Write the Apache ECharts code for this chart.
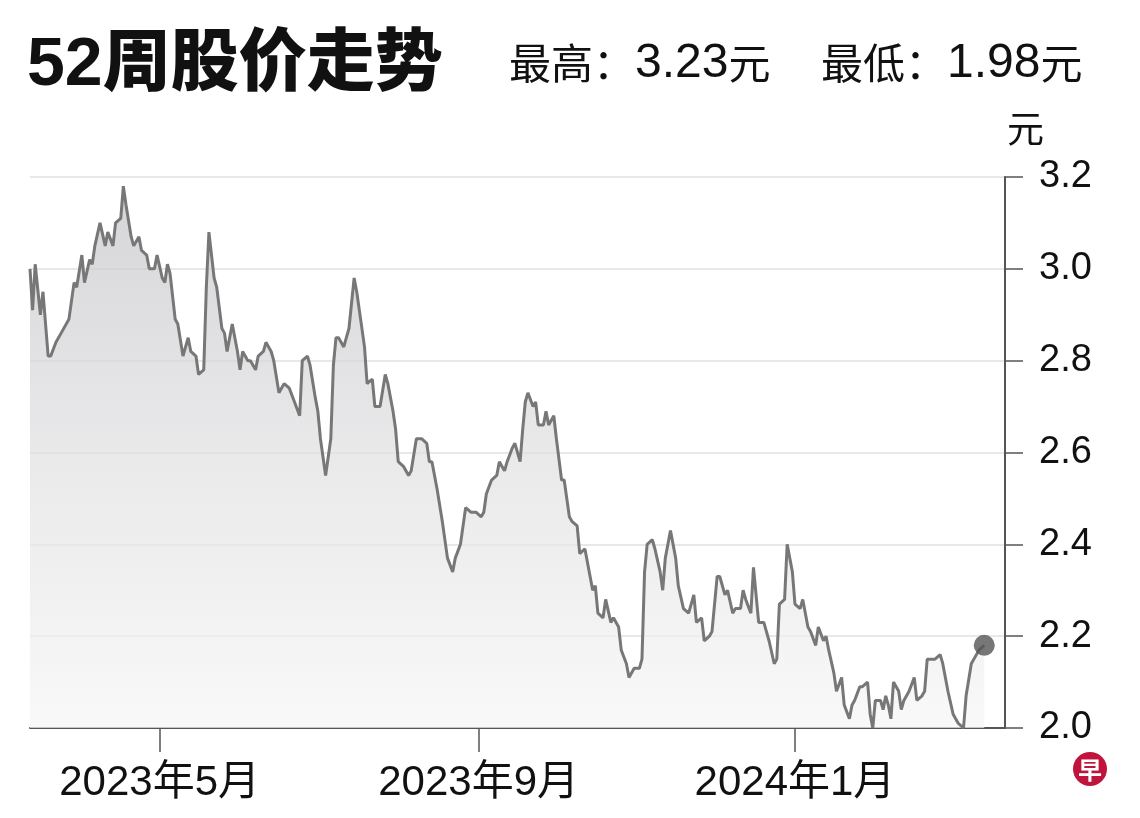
<!DOCTYPE html>
<html><head><meta charset="utf-8">
<script src="https://cdn.jsdelivr.net/npm/echarts@6/dist/echarts.min.js"></script>
<style>html,body{margin:0;padding:0;background:#fff}#c{width:1140px;height:818px}</style>
</head><body><div id="c"></div>
<script>
const titleText = '52周股价走势';
const highLabel = '最高：', highValue = '3.23', lowLabel = '最低：', lowValue = '1.98', currencyUnit = '元';
const unitName = '元';
const logoText = '早';

const dates = [
'2023-03-12','2023-03-13','2023-03-14','2023-03-16','2023-03-17','2023-03-19','2023-03-20','2023-03-22','2023-03-24','2023-03-27','2023-03-29','2023-03-30',
'2023-04-01','2023-04-02','2023-04-04','2023-04-05','2023-04-06','2023-04-08','2023-04-10','2023-04-11','2023-04-13','2023-04-14','2023-04-16','2023-04-17','2023-04-18','2023-04-20','2023-04-21','2023-04-23','2023-04-24','2023-04-26','2023-04-27','2023-04-29','2023-04-30',
'2023-05-02','2023-05-03','2023-05-04','2023-05-05','2023-05-07','2023-05-08','2023-05-10','2023-05-12','2023-05-13','2023-05-15','2023-05-16','2023-05-18','2023-05-19','2023-05-20','2023-05-21','2023-05-22','2023-05-23','2023-05-25','2023-05-26','2023-05-27','2023-05-29','2023-05-31',
'2023-06-01','2023-06-02','2023-06-04','2023-06-05','2023-06-07','2023-06-08','2023-06-10','2023-06-11','2023-06-13','2023-06-14','2023-06-16','2023-06-18','2023-06-20','2023-06-22','2023-06-24','2023-06-25','2023-06-27','2023-06-28','2023-06-30',
'2023-07-01','2023-07-02','2023-07-04','2023-07-06','2023-07-07','2023-07-08','2023-07-09','2023-07-11','2023-07-12','2023-07-13','2023-07-15','2023-07-16','2023-07-17','2023-07-19','2023-07-20','2023-07-22','2023-07-23','2023-07-25','2023-07-27','2023-07-28','2023-07-30','2023-07-31',
'2023-08-01','2023-08-03','2023-08-05','2023-08-06','2023-08-08','2023-08-10','2023-08-12','2023-08-13','2023-08-14','2023-08-16','2023-08-18','2023-08-20','2023-08-22','2023-08-23','2023-08-25','2023-08-27','2023-08-29','2023-08-31',
'2023-09-02','2023-09-03','2023-09-04','2023-09-06','2023-09-08','2023-09-09','2023-09-11','2023-09-12','2023-09-14','2023-09-15','2023-09-17','2023-09-18','2023-09-19','2023-09-20','2023-09-22','2023-09-23','2023-09-24','2023-09-26','2023-09-27','2023-09-28','2023-09-30',
'2023-10-01','2023-10-03','2023-10-04','2023-10-06','2023-10-07','2023-10-09','2023-10-10','2023-10-12','2023-10-14','2023-10-15','2023-10-16','2023-10-17','2023-10-19','2023-10-20','2023-10-22','2023-10-23','2023-10-25','2023-10-26','2023-10-28','2023-10-29','2023-10-31',
'2023-11-02','2023-11-03','2023-11-04','2023-11-05','2023-11-07','2023-11-08','2023-11-10','2023-11-11','2023-11-12','2023-11-14','2023-11-16','2023-11-17','2023-11-19','2023-11-21','2023-11-23','2023-11-24','2023-11-26','2023-11-27','2023-11-29','2023-11-30',
'2023-12-02','2023-12-03','2023-12-05','2023-12-06','2023-12-08','2023-12-09','2023-12-11','2023-12-12','2023-12-13','2023-12-15','2023-12-16','2023-12-18','2023-12-20','2023-12-21','2023-12-22','2023-12-24','2023-12-25','2023-12-26','2023-12-28','2023-12-29','2023-12-31',
'2024-01-01','2024-01-03','2024-01-04','2024-01-06','2024-01-07','2024-01-09','2024-01-10','2024-01-12','2024-01-13','2024-01-14','2024-01-16','2024-01-17','2024-01-19','2024-01-20','2024-01-22','2024-01-23','2024-01-24','2024-01-26','2024-01-27','2024-01-29','2024-01-30','2024-01-31',
'2024-02-01','2024-02-03','2024-02-04','2024-02-05','2024-02-06','2024-02-07','2024-02-08','2024-02-10','2024-02-11','2024-02-12','2024-02-14','2024-02-16','2024-02-17','2024-02-19','2024-02-20','2024-02-21','2024-02-24','2024-02-26','2024-02-27','2024-02-29',
'2024-03-02','2024-03-04','2024-03-06','2024-03-07','2024-03-09','2024-03-10','2024-03-12','2024-03-14'
];

const prices = [
3.00,2.91,3.01,2.90,2.95,2.81,2.81,2.84,2.86,2.89,2.97,2.96,
3.03,2.97,3.02,3.01,3.05,3.10,3.05,3.08,3.05,3.10,3.11,3.18,3.14,3.07,3.05,3.07,3.04,3.03,3.00,3.00,3.03,
2.98,2.97,3.01,2.99,2.89,2.88,2.81,2.85,2.82,2.81,2.77,2.78,2.96,3.08,3.03,2.98,2.96,2.87,2.86,2.82,2.88,2.82,
2.78,2.82,2.80,2.80,2.78,2.81,2.82,2.84,2.82,2.80,2.73,2.75,2.74,2.71,2.68,2.80,2.81,2.79,2.72,
2.69,2.63,2.55,2.63,2.79,2.85,2.85,2.83,2.85,2.87,2.98,2.95,2.91,2.83,2.75,2.76,2.70,2.70,2.77,2.75,2.69,2.65,
2.58,2.57,2.55,2.56,2.63,2.63,2.62,2.58,2.58,2.52,2.45,2.37,2.34,2.37,2.40,2.48,2.47,2.47,
2.46,2.47,2.51,2.54,2.55,2.58,2.56,2.58,2.61,2.62,2.58,2.65,2.71,2.73,2.70,2.71,2.66,2.66,2.69,2.66,2.68,
2.63,2.54,2.54,2.46,2.45,2.44,2.38,2.39,2.33,2.30,2.31,2.25,2.24,2.28,2.23,2.24,2.22,2.17,2.14,2.11,2.13,
2.13,2.15,2.34,2.40,2.41,2.39,2.34,2.30,2.37,2.43,2.37,2.31,2.26,2.25,2.29,2.23,2.24,2.19,2.20,2.21,
2.33,2.33,2.29,2.30,2.25,2.26,2.26,2.30,2.28,2.25,2.35,2.23,2.23,2.21,2.19,2.14,2.15,2.27,2.28,2.40,2.34,
2.27,2.26,2.28,2.22,2.21,2.18,2.22,2.19,2.20,2.17,2.12,2.08,2.11,2.05,2.02,2.05,2.06,2.09,2.09,2.10,2.03,2.00,
2.06,2.06,2.04,2.07,2.05,2.02,2.10,2.08,2.04,2.06,2.08,2.11,2.06,2.07,2.08,2.15,2.15,2.16,2.14,2.08,
2.03,2.01,2.00,2.07,2.14,2.15,2.17,2.18
];

const xRange = ['2023-03-12', '2024-03-22'];
const xTickDates = ['2023-05-01', '2023-09-01', '2024-01-01'];
const xTickLabels = ['2023年5月', '2023年9月', '2024年1月'];
const yMin = 2.0, yMax = 3.2, yStep = 0.2;

const FONT = "'Liberation Sans', Arial, 'Noto Sans CJK SC', sans-serif";
const ts = s => { const p = s.split('-'); return new Date(+p[0], +p[1] - 1, +p[2]).getTime(); };
const xTickTs = xTickDates.map(ts);
const seriesData = dates.map((d, i) => [ts(d), prices[i]]);
const last = seriesData.length - 1;

const statRich = {
  c: {fontSize: 42, fontWeight: 'normal', color: '#111', fontFamily: FONT, verticalAlign: 'bottom', lineHeight: 50},
  n: {fontSize: 48, fontWeight: 'normal', color: '#111', fontFamily: FONT, verticalAlign: 'bottom', lineHeight: 50}
};

const chart = echarts.init(document.getElementById('c'), null, {renderer: 'canvas'});
chart.setOption({
  animation: false,
  backgroundColor: '#fff',
  title: [
    {text: titleText, left: 27, top: 32, padding: 0,
     textStyle: {fontSize: 68, fontWeight: 900, color: '#111', fontFamily: FONT}},
    {text: `{c|${highLabel}}{n|${highValue}}{c|${currencyUnit}}`, left: 509, top: 38, padding: 0,
     textStyle: {fontWeight: 'normal', rich: statRich}},
    {text: `{c|${lowLabel}}{n|${lowValue}}{c|${currencyUnit}}`, left: 821, top: 38, padding: 0,
     textStyle: {fontWeight: 'normal', rich: statRich}}
  ],
  grid: {left: 30, right: 135, top: 177, bottom: 90},
  xAxis: {
    type: 'value',
    min: ts(xRange[0]), max: ts(xRange[1]),
    axisLine: {show: true, onZero: false, lineStyle: {color: '#555', width: 2}},
    axisTick: {show: true, customValues: xTickTs, length: 24, lineStyle: {color: '#555', width: 1.5}},
    axisLabel: {
      customValues: xTickTs,
      formatter: v => { const i = xTickTs.indexOf(v); return i >= 0 ? xTickLabels[i] : ''; },
      fontSize: 42, color: '#111', margin: 34, fontFamily: FONT
    },
    splitLine: {show: false}
  },
  yAxis: {
    type: 'value', position: 'right',
    min: yMin, max: yMax, interval: yStep,
    name: unitName, nameLocation: 'end', nameGap: 26,
    nameTextStyle: {fontSize: 37, color: '#111', align: 'left', verticalAlign: 'bottom', fontFamily: FONT, padding: [0, 0, 0, 2]},
    axisLine: {show: true, lineStyle: {color: '#555', width: 2}},
    axisTick: {show: true, length: 18, lineStyle: {color: '#555', width: 1.5}},
    axisLabel: {fontSize: 38, color: '#111', margin: 34, fontFamily: FONT, formatter: v => v.toFixed(1)},
    splitLine: {show: true, lineStyle: {color: '#e8e8e8', width: 2}}
  },
  series: [
    {
      type: 'line', data: seriesData, showSymbol: false, symbol: 'none', silent: true,
      lineStyle: {color: '#777', width: 3},
      areaStyle: {
        origin: 'start',
        color: new echarts.graphic.LinearGradient(0, 0, 0, 1, [
          {offset: 0, color: '#c4c4c7'},
          {offset: 0.5, color: '#e0e0e2'},
          {offset: 1, color: '#f6f6f6'}
        ])
      },
      z: 2
    },
    {
      type: 'scatter', data: [seriesData[last]], symbol: 'circle', symbolSize: 21, silent: true,
      itemStyle: {color: '#555'}, z: 3
    }
  ],
  graphic: [
    {type: 'circle', shape: {cx: 1090, cy: 769, r: 17}, style: {fill: '#c0143c'}},
    {type: 'text', x: 1090, y: 770, style: {text: logoText, fill: '#fff', fontSize: 24, fontWeight: 'bold',
      align: 'center', verticalAlign: 'middle', fontFamily: "'Noto Sans CJK SC', sans-serif"}}
  ]
});
</script>
</body></html>
